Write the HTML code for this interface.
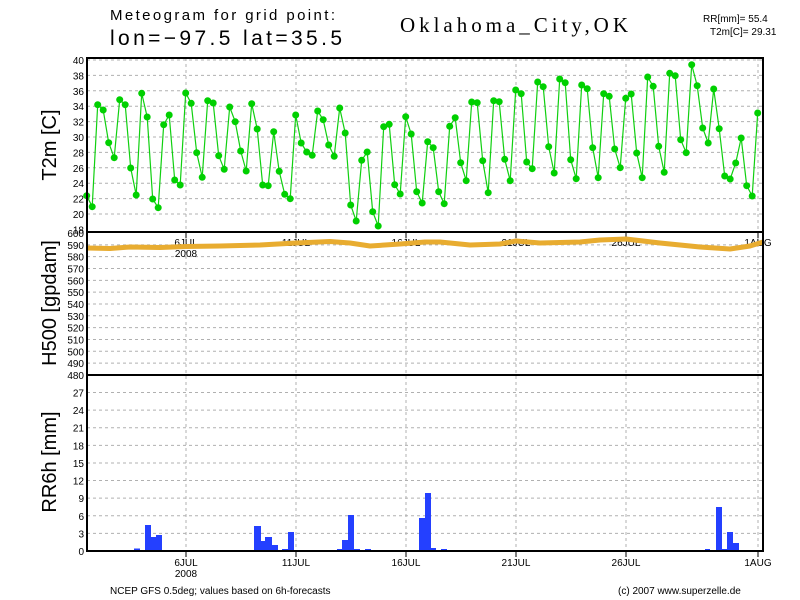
<!DOCTYPE html>
<html><head><meta charset="utf-8"><style>
body{margin:0;background:#fff}
svg{display:block}
text{font-family:"Liberation Sans",sans-serif;fill:#000}
</style></head><body>
<svg id="s" width="800" height="600" xmlns="http://www.w3.org/2000/svg">
<rect width="800" height="600" fill="#fff"/>
<text x="110" y="20" font-size="15" textLength="225" lengthAdjust="spacing">Meteogram for grid point:</text>
<text x="110" y="45" font-size="21" textLength="232" lengthAdjust="spacing" font-weight="300">lon=−97.5  lat=35.5</text>
<text x="400" y="32" font-size="21" textLength="228" lengthAdjust="spacing" style="font-family:'Liberation Serif',serif">Oklahoma_City,OK</text>
<text x="703" y="22" font-size="10">RR[mm]= 55.4</text>
<text x="710" y="35" font-size="10">T2m[C]= 29.31</text>
<g id="grid" stroke="#b0b0b0" stroke-width="1" stroke-dasharray="3,3"></g>
<g id="g"></g>
<rect x="87" y="58" width="676" height="493" fill="none" stroke="#000" stroke-width="2"/>
<line x1="87" y1="232" x2="763" y2="232" stroke="#000" stroke-width="2"/>
<line x1="87" y1="375" x2="763" y2="375" stroke="#000" stroke-width="2"/>
<text transform="translate(56,145) rotate(-90)" font-size="20" text-anchor="middle">T2m [C]</text>
<text transform="translate(56,303) rotate(-90)" font-size="20" text-anchor="middle">H500 [gpdam]</text>
<text transform="translate(56,462) rotate(-90)" font-size="20" text-anchor="middle">RR6h [mm]</text>
<text x="110" y="594" font-size="10">NCEP GFS 0.5deg; values based on 6h-forecasts</text>
<text x="618" y="594" font-size="10">(c) 2007 www.superzelle.de</text>
</svg>
<script>
var NS="http://www.w3.org/2000/svg",g=document.getElementById('g'),gr=document.getElementById('grid');
function el(t,a,p){var e=document.createElementNS(NS,t);for(var k in a)e.setAttribute(k,a[k]);(p||g).appendChild(e);return e;}
function tx(x,y,s,fs,anc){var e=el('text',{x:x,y:y,'font-size':fs,'text-anchor':anc||'middle'});e.textContent=s;}
var days=[[186,'6JUL'],[296,'11JUL'],[406,'16JUL'],[516,'21JUL'],[626,'26JUL'],[758,'1AUG']];
days.forEach(function(d){el('line',{x1:d[0],y1:58,x2:d[0],y2:551},gr);
 el('line',{x1:d[0],y1:232,x2:d[0],y2:238,stroke:'#000'});el('line',{x1:d[0],y1:551,x2:d[0],y2:557,stroke:'#000'});
 tx(d[0],246,d[1],10);tx(d[0],566,d[1],10);});
tx(186,257,'2008',10);tx(186,577,'2008',10);
for(var v=18;v<=40;v+=2){var y=60+(40-v)*7.7;if(v>18)el('line',{x1:87,y1:y,x2:763,y2:y},gr);tx(84,y+4,v,10,'end');}
for(var v=480;v<=600;v+=10){var y=233+(600-v)*1.183;if(v<600&&v>480)el('line',{x1:87,y1:y,x2:763,y2:y},gr);tx(84,y+4,v,10,'end');}
for(var v=0;v<=27;v+=3){var y=551-v*5.87;if(v>0)el('line',{x1:87,y1:y,x2:763,y2:y},gr);tx(84,y+4,v,10,'end');}
var r=[[134,140,548.5],[140,145,550],[145,151,525],[151,156,537],[156,162,535],[254,261,526],[261,265,541],[265,272,537],[272,278,545],[282,288,549],[288,294,532],[304,310,550],[337,342,549],[342,348,540],[348,354,515],[354,360,549],[365,371,549],[419,425,518],[425,431,493],[431,436,548],[441,447,549],[700,705,550],[705,710,549],[716,722,507],[722,727,549],[727,733,532],[733,739,543]];
r.forEach(function(b){el('rect',{x:b[0],y:b[2],width:b[1]-b[0],height:551-b[2],fill:'#2440ff'});});
var h=[[87,248],[110,248.5],[130,247],[160,247.5],[186,246.5],[220,246],[260,245],[296,243],[330,241.5],[350,243],[370,246],[400,244],[425,242],[440,242],[470,245],[500,244],[516,241],[540,243],[580,242],[600,240],[626,239],[660,243],[700,247],[730,249],[750,246],[763,242]];
el('polyline',{points:h.map(function(p){return p.join(',')}).join(' '),fill:'none',stroke:'#e8ac30','stroke-width':5,'stroke-linejoin':'round'});
var t=[195.7,206.7,104.7,110,142.7,157.7,99.7,104.7,168,195,93.3,117,199,207.7,124.7,115,180,185,93,
103.3,152.7,177.3,100.7,103,155.7,169.3,107,121.7,151,171,103.7,129,185,185.7,131.7,171.3,194.3,198.7,115,143,152,155.3,111,119.7,145,156.3,108,133,205,221,160.3,152,211.7,226,126.7,124.3,184.7,194,
116.7,134,191.7,203,141.7,147.7,191.7,203.7,126.3,117.7,162.7,180.7,102,102.7,160.7,192.7,100.7,101.7,159.3,180.7,90,93.7,162,168.7,82,86.7,146.7,173,79,82.7,159.7,178.7,85,88.7,147.7,177.7,
93.7,96.3,149,167.7,98.3,94,153,177.7,77,86.3,146.3,172.3,73.3,75.7,139.7,152.7,64.7,85.7,128,143,89,128.7,176,179,163,138,185.7,196,113];
var pts=t.map(function(y,i){return [86.7+5.5*i,y];});
el('polyline',{points:pts.map(function(p){return p.join(',')}).join(' '),fill:'none',stroke:'#10d010','stroke-width':1.2});
pts.forEach(function(p){el('circle',{cx:p[0],cy:p[1],r:3.5,fill:'#00d000'});});
</script>
</body></html>
